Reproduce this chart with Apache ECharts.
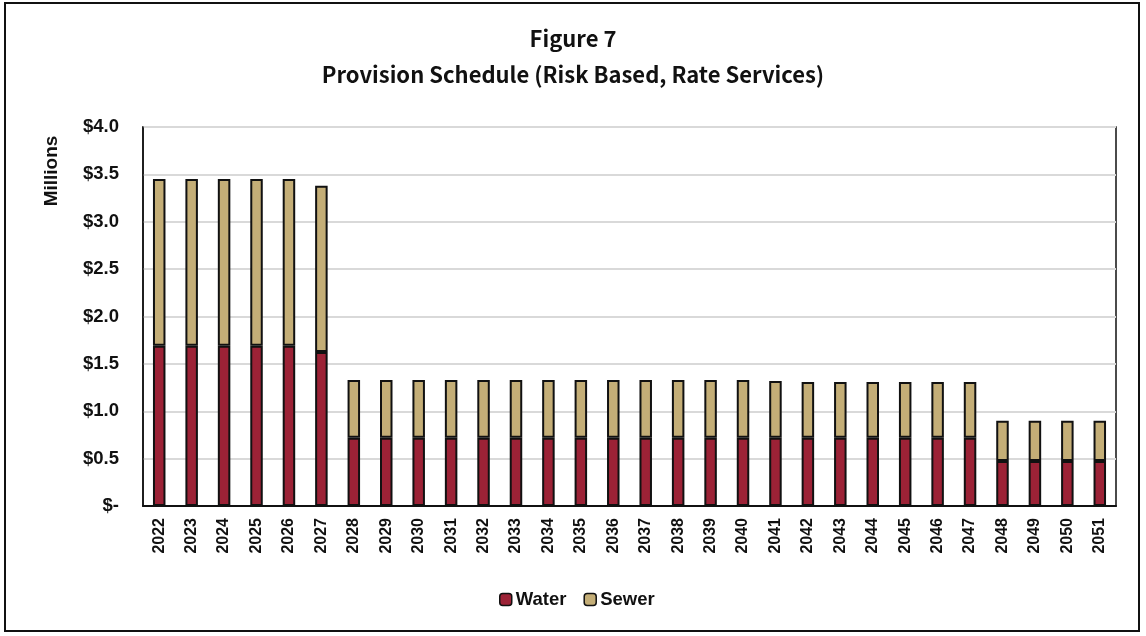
<!DOCTYPE html>
<html>
<head>
<meta charset="utf-8">
<script src="https://cdn.jsdelivr.net/npm/echarts@6/dist/echarts.min.js"></script>
<style>
  html, body { margin: 0; padding: 0; background: #fff; }
  #frame { position: absolute; left: 4px; top: 2px; width: 1136px; height: 630px; border: 2px solid #111; box-sizing: border-box; }
  #chart { position: absolute; left: 0; top: 0; width: 1146px; height: 636px; }
</style>
</head>
<body>
<div id="frame"></div>
<div id="chart"></div>
<script>
// Provision schedule, risk based, rate services ($ millions)
const years = ['2022','2023','2024','2025','2026','2027','2028','2029','2030','2031','2032','2033','2034','2035','2036','2037','2038','2039','2040','2041','2042','2043','2044','2045','2046','2047','2048','2049','2050','2051'];
const water = [1.69,1.69,1.69,1.69,1.69,1.625,0.72,0.72,0.72,0.72,0.72,0.72,0.72,0.72,0.72,0.72,0.72,0.72,0.72,0.72,0.72,0.72,0.72,0.72,0.72,0.72,0.475,0.475,0.475,0.475];
const sewer = [1.76,1.76,1.76,1.76,1.76,1.755,0.61,0.61,0.61,0.61,0.61,0.61,0.61,0.61,0.61,0.61,0.61,0.61,0.61,0.60,0.59,0.59,0.59,0.59,0.59,0.59,0.425,0.425,0.425,0.425];
const yTicks = ['$-','$0.5','$1.0','$1.5','$2.0','$2.5','$3.0','$3.5','$4.0'];

const chart = echarts.init(document.getElementById('chart'));
const labelFont = 'Liberation Sans, Arial, sans-serif';
const titleFont = '"Noto Sans CJK JP", "Noto Sans", sans-serif';

chart.setOption({
  animation: false,
  title: [
    { text: 'Figure 7', left: 'center', top: 23, textStyle: { fontFamily: titleFont, fontWeight: 'bold', fontSize: 22, color: '#111' } },
    { text: 'Provision Schedule (Risk Based, Rate Services)', left: 'center', top: 59, textStyle: { fontFamily: titleFont, fontWeight: 'bold', fontSize: 22, color: '#111' } }
  ],
  // vertical unit label beside the value axis
  graphic: [{
    type: 'text', x: 52, y: 171, rotation: Math.PI / 2,
    style: { text: 'Millions', fontFamily: labelFont, fontWeight: 'bold', fontSize: 19, fill: '#111', align: 'center', verticalAlign: 'middle' }
  }],
  legend: {
    bottom: 22, left: 494, itemWidth: 12, itemHeight: 12, itemGap: 17,
    textStyle: { fontFamily: labelFont, fontWeight: 'bold', fontSize: 18.5, color: '#111', padding: [0, 0, 0, -1] },
    data: [
      { name: 'Water', itemStyle: { borderColor: '#111', borderWidth: 1.5 } },
      { name: 'Sewer', itemStyle: { borderColor: '#111', borderWidth: 1.5 } }
    ]
  },
  grid: { left: 143, right: 30, top: 127, bottom: 130, show: true, borderColor: '#111', borderWidth: 1.5, containLabel: false },
  xAxis: {
    type: 'category', data: years,
    axisLine: { lineStyle: { color: '#111', width: 2 } },
    axisTick: { show: false },
    axisLabel: { rotate: 90, fontFamily: labelFont, fontWeight: 'bold', fontSize: 16, color: '#111', margin: 12 }
  },
  yAxis: {
    type: 'value', min: 0, max: 4, interval: 0.5,
    axisLine: { show: true, lineStyle: { color: '#111', width: 1.5 } },
    axisTick: { show: false },
    splitLine: { lineStyle: { color: '#d9d9d9', width: 2 } },
    axisLabel: {
      fontFamily: labelFont, fontWeight: 'bold', fontSize: 18.5, color: '#111', margin: 24,
      formatter: v => yTicks[Math.round(v / 0.5)]
    }
  },
  series: [
    { name: 'Water', type: 'bar', stack: 'total', data: water, barWidth: 12.5,
      itemStyle: { color: '#9c2236', borderColor: '#111', borderWidth: 2 } },
    { name: 'Sewer', type: 'bar', stack: 'total', data: sewer, barWidth: 12.5,
      itemStyle: { color: '#c4ae77', borderColor: '#111', borderWidth: 2 } }
  ]
});
</script>
</body>
</html>
